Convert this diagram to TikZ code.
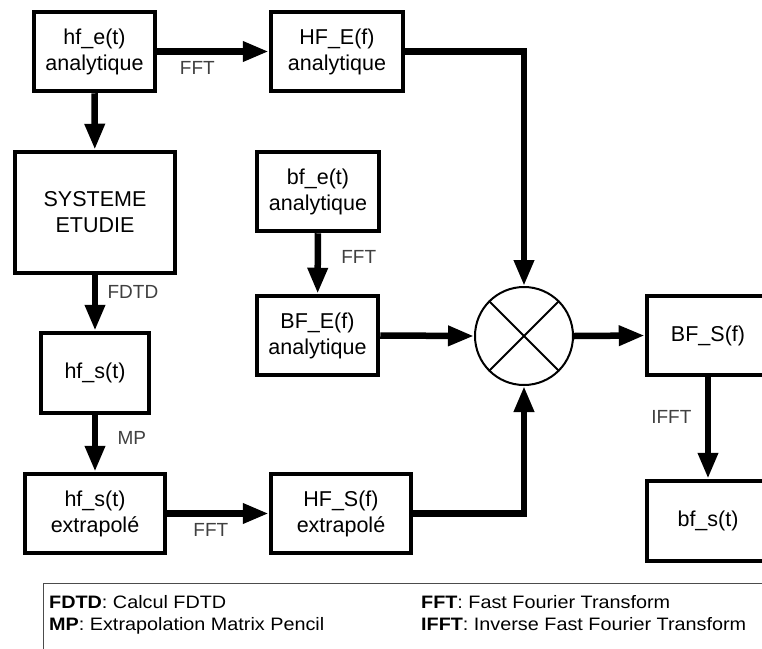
\documentclass[tikz,border=0pt]{standalone}
\usepackage{fontspec}
\setmainfont{Liberation Sans}
\newfontfamily\legendfont{Liberation Sans}[FakeStretch=1.1]
\usetikzlibrary{arrows.meta}

\begin{document}
\begin{tikzpicture}[x=1pt, y=-1pt,
    bloc/.style = {draw, line width=4.5pt, align=center, inner sep=0pt,
      font=\fontsize{21.5}{26}\selectfont},
    flux/.style = {draw, line width=6.5pt, -{Triangle[length=26pt, width=19pt]}},
    etiq/.style = {text=black!75, font=\fontsize{19}{22}\selectfont},
    legende/.style = {anchor=base west, inner sep=0pt,
      font=\legendfont\fontsize{18}{22}\selectfont}]
        \path[use as bounding box](0,0)rectangle(762,648);
        \clip(0,0)rectangle(762,648);
        % haute frequence
        \node[bloc, minimum width=121, minimum height=79](hfe)at(94.5,51.5){hf\_e(t)\\analytique};
        \node[bloc, minimum width=132, minimum height=79](HFe)at(337,51.5){HF\_E(f)\\analytique};
        \node[bloc, minimum width=160, minimum height=121](sys)at(95,212.5){SYSTEME\\ETUDIE};
        \node[bloc, minimum width=108, minimum height=80](hfs)at(95,373){hf\_s(t)};
        \node[bloc, minimum width=140, minimum height=79](hfx)at(95,513.5){hf\_s(t)\\extrapolé};
        \node[bloc, minimum width=140, minimum height=79](HFs)at(341,513.5){HF\_S(f)\\extrapolé};
        % basse frequence
        \node[bloc, minimum width=122, minimum height=79](bfe)at(318,191.5){bf\_e(t)\\analytique};
        \node[bloc, minimum width=121, minimum height=79](BFe)at(317.5,335.5){BF\_E(f)\\analytique};
        \node[bloc, minimum width=122, minimum height=79](BFs)at(708,335.5){BF\_S(f)};
        \node[bloc, minimum width=122, minimum height=80](bfs)at(708,521){bf\_s(t)};
        % produit
        \node[draw, circle, line width=2pt, minimum size=98, inner sep=0pt](mix)at(524,336){};
        \path[draw, line width=2pt](mix.north west)--(mix.south east);
        \path[draw, line width=2pt](mix.north east)--(mix.south west);
        % fleches
        \path[flux](hfe)--node[etiq, pos=0.36, below=3pt](l1){FFT}(HFe);
        \path[flux](hfe)--(sys);
        \path[flux](sys)--node[etiq, pos=0.3, right=6pt](l2){FDTD}(hfs);
        \path[flux](hfs)--node[etiq, pos=0.4, right=16pt](l3){MP}(hfx);
        \path[flux](hfx)--node[etiq, pos=0.43, below=3pt](l4){FFT}(HFs);
        \path[flux](bfe)--node[etiq, pos=0.39, right=17pt](l5){FFT}(BFe);
        \path[flux](HFe.east)-|(mix.north);
        \path[flux](BFe.east)--(mix.west);
        \path[flux](HFs.east)-|(mix.south);
        \path[flux](mix.east)--(BFs.west);
        \path[flux](BFs)--node[etiq, pos=0.39, left=10pt](l6){IFFT}(bfs);
        % legende
        \path[draw, black!70, line width=1pt](43,583)rectangle(800,700);
        \node[legende](k1)at(49,608){\textbf{FDTD}: Calcul FDTD};
        \node[legende](k2)at(49,630){\textbf{MP}: Extrapolation Matrix Pencil};
        \node[legende](k3)at(421,608){\textbf{FFT}: Fast Fourier Transform};
        \node[legende](k4)at(421,630){\textbf{IFFT}: Inverse Fast Fourier Transform};
    \end{tikzpicture}
\end{document}
